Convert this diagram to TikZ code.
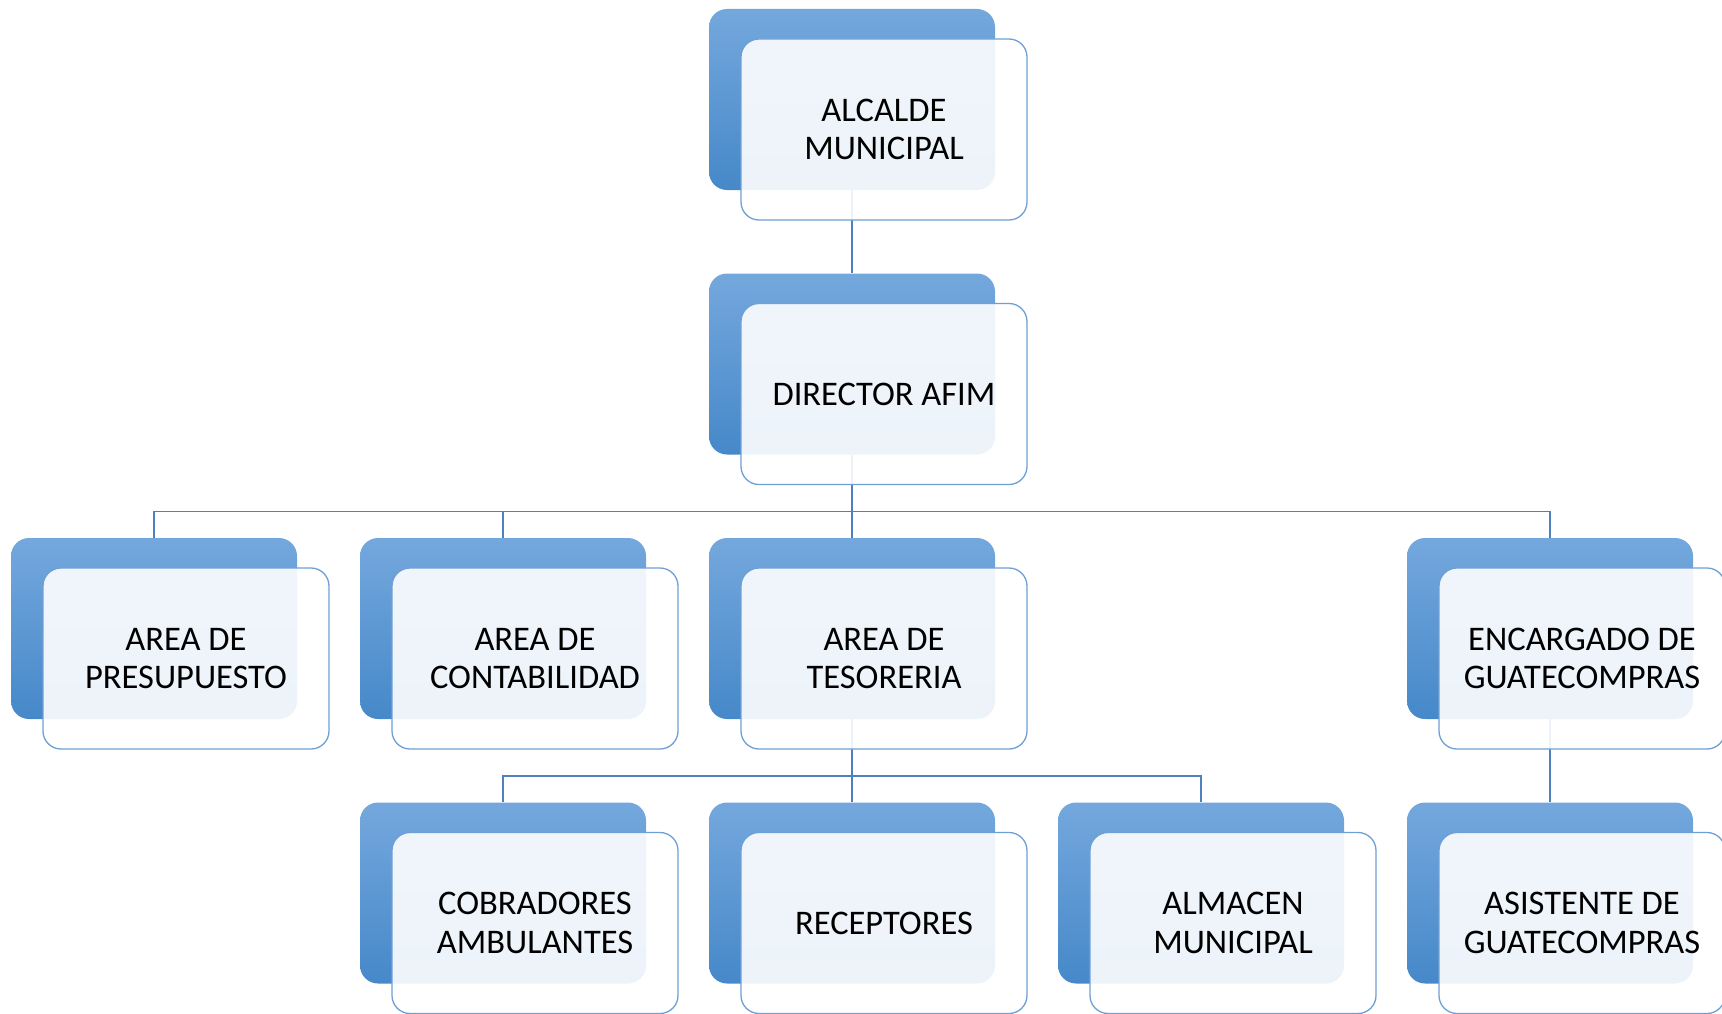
\documentclass[tikz,border=0pt]{standalone}
\usepackage{fontspec}
\setmainfont{Carlito}
\usepackage{tikz}
\usetikzlibrary{calc}
\definecolor{orgtop}{RGB}{116, 168, 221}
\definecolor{orgmid}{RGB}{88, 153, 218}
\definecolor{orgbot}{RGB}{70, 136, 201}
\definecolor{orgedge}{RGB}{110, 160, 214}
\definecolor{orgline}{RGB}{76, 128, 190}

\begin{document}
\begin{tikzpicture}[
  x=1pt, y=-1pt,
  back/.style={rounded corners=18pt, minimum width=286pt, minimum height=181pt,
               inner sep=0pt, top color=orgtop, middle color=orgmid, bottom color=orgbot},
  front/.style={draw=orgedge, line width=1.3pt, rounded corners=18pt, fill=white,
                fill opacity=0.9, text opacity=1, minimum width=286pt, minimum height=181pt,
                inner sep=0pt, align=center, font=\fontsize{34.5}{38.5}\selectfont},
  link/.style={draw=orgline, line width=1.4pt}
]
\useasboundingbox (0,0) rectangle (1722,1014);

% back boxes
\node[back] (alc) at (852,99.5)  {};
\node[back] (dir) at (852,364)   {};
\node[back] (pre) at (154,628.5) {};
\node[back] (con) at (503,628.5) {};
\node[back] (tes) at (852,628.5) {};
\node[back] (gua) at (1550,628.5) {};
\node[back] (cob) at (503,893)   {};
\node[back] (rec) at (852,893)   {};
\node[back] (alm) at (1201,893)  {};
\node[back] (asi) at (1550,893)  {};

% connectors
\coordinate (busA) at (852,511.5);
\coordinate (busB) at (852,776);
\draw[link] (alc.south) -- (dir.north);
\foreach \n in {pre,con,tes,gua}
  \draw[link] (dir.south) -- (busA) -| (\n.north);
\foreach \n in {cob,rec,alm}
  \draw[link] (tes.south) -- (busB) -| (\n.north);
\draw[link] (gua.south) -- (asi.north);

% front boxes with texts
\node[front] (alcT) at ($(alc)+(32,30)$) {ALCALDE\\MUNICIPAL};
\node[front] (dirT) at ($(dir)+(32,30)$) {DIRECTOR AFIM};
\node[front] (preT) at ($(pre)+(32,30)$) {AREA DE\\PRESUPUESTO};
\node[front] (conT) at ($(con)+(32,30)$) {AREA DE\\CONTABILIDAD};
\node[front] (tesT) at ($(tes)+(32,30)$) {AREA DE\\TESORERIA};
\node[front] (guaT) at ($(gua)+(32,30)$) {ENCARGADO DE\\GUATECOMPRAS};
\node[front] (cobT) at ($(cob)+(32,30)$) {COBRADORES\\AMBULANTES};
\node[front] (recT) at ($(rec)+(32,30)$) {RECEPTORES};
\node[front] (almT) at ($(alm)+(32,30)$) {ALMACEN\\MUNICIPAL};
\node[front] (asiT) at ($(asi)+(32,30)$) {ASISTENTE DE\\GUATECOMPRAS};
\end{tikzpicture}
\end{document}
